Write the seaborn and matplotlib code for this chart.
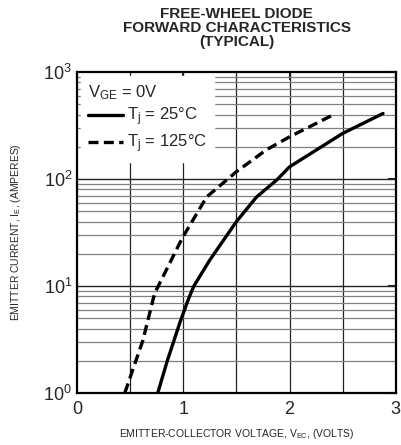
import numpy as np
import pandas as pd
import seaborn as sns
import matplotlib
matplotlib.use('Agg')
from matplotlib import pyplot as plt
from matplotlib.lines import Line2D
from matplotlib.ticker import LogLocator, NullFormatter

# values
v_25 = [0.76, 0.85, 0.97, 1.05, 1.10, 1.25, 1.50, 1.69, 1.88, 2.00, 2.50, 2.88]
i_25 = [1.0, 2.0, 4.6, 7.6, 10.0, 17.5, 40, 68, 98, 130, 267, 410]
v_125 = [0.45, 0.62, 0.73, 0.99, 1.22, 1.50, 1.78, 2.00, 2.41]
i_125 = [1.0, 3.1, 8.5, 28, 68, 117, 187, 248, 398]
curve_names = ['$T_j$ = 25°C', '$T_j$ = 125°C']
x_ticks = [0, 1, 2, 3]

df = pd.concat([
    pd.DataFrame({'V': v_25, 'I': i_25, 'Tj': curve_names[0]}),
    pd.DataFrame({'V': v_125, 'I': i_125, 'Tj': curve_names[1]}),
])

sns.set_style('white')
plt.rcParams['font.family'] = ['Liberation Sans', 'DejaVu Sans']
plt.rcParams['mathtext.default'] = 'regular'

fig = plt.figure(figsize=(4.01, 4.45), dpi=100)
ax = fig.add_axes([0.192, 0.117, 0.795, 0.721])

# grid first, curves on top
for x in np.arange(0.5, 3.0, 0.5):
    ax.axvline(x, color='#222222', lw=0.9, zorder=1)
for dec in [1, 10, 100]:
    for m in range(2, 10):
        ax.axhline(dec * m, color='#808080', lw=0.9, zorder=1)
    if dec > 1:
        ax.axhline(dec, color='#222222', lw=1.0, zorder=1)

sns.lineplot(data=df, x='V', y='I', style='Tj', color='black', lw=2.4,
             dashes={curve_names[0]: '', curve_names[1]: (3, 1.6)},
             legend=False, ax=ax, zorder=3, sort=False)

ax.set_yscale('log')
ax.set_xlim(0, 3)
ax.set_ylim(1, 1000)
ax.set_xticks(x_ticks)
ax.set_xticklabels([str(t) for t in x_ticks], fontsize=13)
ax.yaxis.set_major_locator(LogLocator(base=10, numticks=5))
ax.yaxis.set_minor_locator(LogLocator(base=10, subs=np.arange(2, 10), numticks=10))
ax.yaxis.set_minor_formatter(NullFormatter())
ax.tick_params(axis='y', which='major', labelsize=13, direction='in', length=6,
               width=1.5, right=True)
ax.tick_params(axis='y', which='minor', direction='in', length=3, width=0.8)
ax.tick_params(axis='x', direction='in', length=6, width=1.5, top=True,
               labelsize=13, pad=6)
for s in ax.spines.values():
    s.set_linewidth(1.6)
    s.set_color('black')

ax.set_xlabel('EMITTER-COLLECTOR VOLTAGE, $V_{EC}$, (VOLTS)', fontsize=7.5, labelpad=6)
ax.set_ylabel('EMITTER CURRENT, $I_E$, (AMPERES)', fontsize=7.5, labelpad=15)

handles = [Line2D([], [], color='black', lw=2.4),
           Line2D([], [], color='black', lw=2.4, dashes=(3, 1.6))]
leg = ax.legend(handles, curve_names, title='$V_{GE}$ = 0V', loc='upper left',
                fontsize=12, title_fontsize=12, frameon=True, fancybox=False,
                borderaxespad=0.25, handlelength=2.1, handletextpad=0.25,
                labelspacing=0.25, borderpad=0.4)
leg._legend_box.align = 'left'
leg.get_frame().set_facecolor('white')
leg.get_frame().set_edgecolor('white')
leg.get_frame().set_alpha(1)
leg.set_zorder(5)

fig.text(0.59, 0.985, 'FREE-WHEEL DIODE\nFORWARD CHARACTERISTICS\n(TYPICAL)',
         ha='center', va='top', fontsize=11, fontweight='bold', linespacing=1.0)

fig.savefig('out.png', dpi=100)
